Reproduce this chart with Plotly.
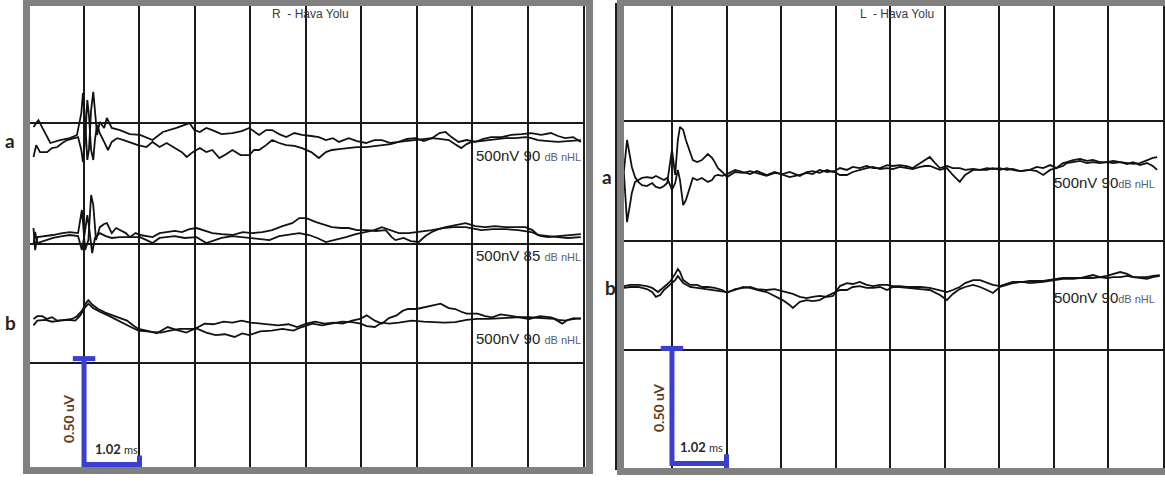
import plotly.graph_objects as go

W, H = 1165, 482

# ---------------- DATA (time in ms, amplitude deviation in nV) ----------------
# Left panel: R - Hava Yolu
R_a1_t = [0.09,0.18,0.40,0.58,0.76,0.89,0.97,1.00,1.04,1.08,1.11,1.15,1.19,1.22,1.26,1.31,1.39,1.44,1.53,1.68,
          1.86,2.05,2.28,2.47,2.60,2.72,2.96,3.05,3.15,3.27,3.38,3.55,3.75,3.92,4.06,4.24,4.37,4.48,4.61,4.74,
          4.89,5.03,5.20,5.34,5.47,5.60,5.71,5.89,6.04,6.21,6.36,6.50,6.66,6.81,6.96,7.12,7.27,7.42,7.56,7.67,
          7.78,7.91,8.06,8.22,8.37,8.51,8.70,8.88,9.07,9.25,9.43,9.61,9.74,9.87,10.02,10.16]
R_a1_nv = [61,94,-14,0,9,24,127,222,94,-94,-47,142,227,142,24,85,57,104,57,47,
           28,24,0,38,47,57,80,47,38,57,47,28,33,42,57,24,47,47,28,14,
           33,24,19,14,0,9,-9,9,-5,-14,0,0,-14,-9,5,9,-5,9,33,38,
           14,-9,0,-9,5,14,14,24,28,33,24,33,19,9,14,-9]
R_a2_t = [0.09,0.14,0.21,0.34,0.43,0.53,0.62,0.71,0.84,0.91,0.97,1.00,1.04,1.08,1.11,1.15,1.19,1.22,1.26,1.31,
          1.39,1.46,1.53,1.63,1.75,1.86,2.01,2.17,2.28,2.41,2.54,2.69,2.82,2.91,3.02,3.15,3.27,3.38,3.51,3.64,
          3.75,3.90,4.06,4.15,4.24,4.37,4.48,4.61,4.74,4.89,5.03,5.20,5.34,5.47,5.58,5.75,5.89,6.04,6.21,6.36,
          6.50,6.66,6.81,6.96,7.12,7.27,7.42,7.56,7.73,7.84,7.96,8.06,8.15,8.31,8.46,8.60,8.77,8.96,9.14,9.25,
          9.37,9.56,9.74,9.92,10.16]
R_a2_nv = [-80,-24,-57,-57,-38,-33,-14,0,9,14,-47,-104,0,189,118,-47,-94,0,71,33,
           -9,-47,-9,9,0,-9,-24,-33,-9,-33,-14,-38,-57,-80,-57,-38,-57,-47,-85,-66,
           -47,-71,-71,-47,-47,-24,0,-14,-24,-28,-38,-57,-85,-57,-47,-42,-38,-33,-33,-28,
           -24,-19,-9,-5,0,5,9,5,0,-19,-38,-19,-9,-5,0,5,9,9,14,9,
           0,-5,-9,-5,0]

R_c1_t = [0.09,0.12,0.16,0.31,0.45,0.62,0.76,0.91,0.98,1.00,1.04,1.10,1.15,1.19,1.24,1.31,1.39,1.44,1.53,1.61,
          1.68,1.79,1.86,1.97,2.05,2.17,2.28,2.41,2.54,2.69,2.82,2.96,3.09,3.24,3.38,3.55,3.75,3.94,4.12,4.30,
          4.48,4.67,4.85,4.98,5.11,5.29,5.44,5.58,5.75,5.89,6.04,6.21,6.39,6.57,6.68,6.75,6.90,7.03,7.18,7.30,
          7.42,7.54,7.67,7.85,8.04,8.22,8.40,8.58,8.77,8.96,9.14,9.27,9.37,9.56,9.74,9.92,10.16]
R_c1_nv = [38,-66,-5,0,5,14,19,14,123,66,-66,-19,194,146,-19,42,57,61,14,38,
           28,14,-5,14,5,0,-5,14,19,24,19,33,38,24,14,9,5,19,14,19,
           28,47,61,85,85,66,52,42,38,38,28,28,24,28,-5,-19,-9,-24,-28,0,
           19,33,42,52,61,47,42,47,42,42,42,28,5,0,-5,-9,-5]
R_c2_t = [0.09,0.12,0.16,0.31,0.45,0.62,0.76,0.91,0.98,1.02,1.08,1.11,1.17,1.22,1.31,1.42,1.53,1.68,1.86,2.05,
          2.17,2.28,2.41,2.54,2.69,2.87,3.09,3.27,3.38,3.55,3.75,3.94,4.12,4.30,4.43,4.61,4.80,4.98,5.16,5.31,
          5.47,5.62,5.84,6.02,6.21,6.36,6.50,6.66,6.81,6.99,7.18,7.42,7.63,7.82,8.04,8.22,8.33,8.55,8.77,9.01,
          9.25,9.43,9.56,9.74,9.92,10.16]
R_c2_nv = [-42,19,-33,-19,-9,0,5,0,-66,-9,99,47,-80,-9,14,0,-9,-5,-5,-5,
           -19,-33,-9,-5,0,-9,-5,-33,-24,-9,0,-5,-9,-14,-19,0,9,14,5,-9,
           -28,-19,-5,9,19,28,42,28,14,14,19,28,38,42,42,33,28,33,33,28,
           19,0,-5,0,5,9]

R_b1_t = [0.09,0.16,0.25,0.34,0.43,0.53,0.67,0.80,0.89,0.98,1.06,1.10,1.17,1.28,1.41,1.54,1.68,1.81,1.92,2.02,
          2.17,2.36,2.47,2.56,2.72,2.90,3.05,3.24,3.40,3.59,3.75,3.92,4.08,4.26,4.43,4.59,4.78,4.94,5.11,5.27,
          5.44,5.62,5.78,5.95,6.10,6.22,6.37,6.50,6.63,6.77,6.88,6.98,7.14,7.30,7.45,7.58,7.73,7.85,7.96,8.06,
          8.26,8.40,8.53,8.68,8.81,9.01,9.21,9.41,9.61,9.74,9.89,10.03,10.16]
R_b1_nv = [0,13,13,0,8,-8,-4,0,13,38,76,89,68,47,30,17,4,-8,-30,-47,
           -55,-68,-51,-38,-51,-64,-47,-22,-25,-13,-17,-8,-17,-22,-25,-30,-25,-38,-22,-13,
           -22,-17,-22,-8,0,17,-8,-22,4,17,38,47,47,55,64,72,51,47,34,25,
           25,13,8,22,17,8,0,13,8,-4,-8,4,0]
R_b2_t = [0.09,0.16,0.31,0.43,0.58,0.73,0.86,0.95,1.04,1.10,1.19,1.31,1.46,1.61,1.75,1.88,2.02,2.24,2.43,2.60,
          2.78,2.96,3.11,3.27,3.44,3.61,3.79,3.93,4.06,4.26,4.47,4.67,4.87,5.03,5.22,5.40,5.58,5.77,5.95,6.11,
          6.22,6.37,6.50,6.63,6.81,7.05,7.27,7.45,7.65,7.85,8.06,8.26,8.46,8.73,8.97,9.21,9.47,9.67,9.82,9.92,
          10.16]
R_b2_nv = [-30,-8,-4,-13,-8,-4,-8,17,55,72,51,34,17,-4,-22,-38,-55,-59,-64,-55,
           -47,-47,-47,-64,-76,-72,-85,-68,-76,-59,-55,-47,-55,-38,-22,-30,-22,-13,-15,-22,
           -34,-38,-17,-22,-17,-8,-13,-15,-17,-15,-4,0,0,4,8,8,4,0,-22,-4,
           4]

# Right panel: L - Hava Yolu
L_a_t = [0.12,0.18,0.24,0.27,0.33,0.39,0.46,0.55,0.65,0.72,0.80,0.87,0.93,0.98,1.02,1.08,1.13,1.17,1.23,1.28,
         1.36,1.41,1.49,1.58,1.69,1.77,1.82,1.88,1.96,2.05,2.20,2.35,2.48,2.61,2.79,2.94,3.09,3.22,3.41,3.54,
         3.65,3.78,3.92,4.03,4.16,4.29,4.40,4.53,4.66,4.78,4.91,5.04,5.15,5.28,5.41,5.52,5.66,5.75,5.84,5.94,
         6.03,6.16,6.27,6.40,6.50,6.65,6.78,6.91,7.02,7.15,7.28,7.39,7.53,7.71,7.84,7.96,8.09,8.21,8.33,8.40,
         8.52,8.65,8.78,8.89,9.02,9.15,9.27,9.40,9.53,9.64,9.77,9.90,10.01,10.09]
L_a1_nv = [0,139,61,22,-22,-43,-57,-61,-48,-65,-70,-61,-48,39,96,-13,139,196,183,139,
           87,52,43,52,78,61,43,17,0,-22,0,-4,4,-4,-17,-4,-9,0,-17,0,
           4,-4,9,0,17,9,22,17,26,17,17,30,26,30,26,17,39,52,65,39,
           17,26,17,17,9,13,9,17,13,17,9,13,4,9,22,17,30,17,39,43,
           52,57,48,52,43,43,48,43,39,35,39,52,61,65]
L_a2_nv = [0,-218,-135,-91,-43,-35,-26,-22,-26,-17,-26,-35,-26,-57,-78,-48,9,-35,-144,-122,
           -57,-26,-35,-26,-43,-35,-17,-13,-17,-9,9,0,-9,4,-13,0,-13,-22,-13,-4,
           -9,9,0,4,-13,-13,0,9,17,22,13,17,13,22,17,13,22,26,26,17,
           9,17,-13,-43,-13,9,9,9,17,9,17,9,4,9,4,-13,9,17,26,39,
           43,48,39,43,39,43,39,43,35,43,30,39,26,9]

L_b1_t = [0.12,0.24,0.39,0.55,0.65,0.76,0.87,0.98,1.08,1.13,1.17,1.23,1.36,1.49,1.58,1.69,1.82,1.96,2.05,2.20,
          2.35,2.48,2.61,2.79,2.94,3.09,3.22,3.28,3.41,3.54,3.65,3.78,3.92,4.03,4.16,4.29,4.40,4.53,4.66,4.78,
          4.91,5.04,5.15,5.28,5.41,5.52,5.66,5.84,6.03,6.16,6.27,6.40,6.50,6.65,6.78,6.91,7.02,7.15,7.28,7.39,
          7.58,7.71,7.96,8.09,8.33,8.52,8.65,8.89,9.02,9.15,9.27,9.40,9.53,9.64,9.77,9.90,10.01,10.14]
L_b1_nv = [4,9,9,4,-4,-22,0,22,57,78,65,30,9,9,0,0,-4,-13,-26,-9,
           -4,0,-9,-13,-9,-17,-26,-30,-43,-48,-43,-39,-43,-39,4,17,13,22,9,4,
           9,9,4,4,0,0,0,-4,-13,-22,-13,0,17,30,30,17,9,4,13,22,
           22,26,26,30,39,39,39,52,43,48,57,65,57,43,43,43,48,52]
L_b2_t = [0.12,0.24,0.39,0.55,0.65,0.72,0.80,0.87,0.98,1.08,1.13,1.23,1.36,1.49,1.69,1.88,2.05,2.20,2.35,2.48,
          2.61,2.79,2.94,3.09,3.22,3.28,3.41,3.54,3.65,3.78,3.92,4.03,4.16,4.29,4.40,4.53,4.66,4.78,4.91,5.04,
          5.15,5.28,5.52,5.66,5.84,6.03,6.16,6.27,6.40,6.50,6.65,6.78,6.91,7.02,7.15,7.28,7.39,7.58,7.71,7.96,
          8.09,8.33,8.52,8.65,8.89,9.02,9.15,9.27,9.40,9.53,9.64,9.77,9.90,10.01,10.14]
L_b2_nv = [-4,0,0,-9,-22,-43,-35,-13,9,30,48,17,0,-4,-9,-17,-22,-13,0,-4,
           -13,-22,-39,-57,-78,-91,-65,-57,-61,-57,-39,-26,-13,-13,0,4,-4,-4,0,-13,
           0,0,-4,-9,-13,-35,-57,-30,-9,0,9,0,-13,-26,0,9,17,22,17,22,
           26,35,35,39,39,43,39,43,43,48,43,39,35,43,48]

# Row labels and scale text
titles = ["R  - Hava Yolu", "L  - Hava Yolu"]
left_row_levels = ["90", "85", "90"]
right_row_levels = ["90", "90"]
scale_uv = 0.5        # uV
scale_ms = 1.02       # ms per division
x_span_ms = 10.2

# ---------------- helpers ----------------
def px(x):
    return x / W

def py(y):
    return 1 - y / H

BLUE = "#3b3fd1"
INK = "#121212"
FONT_SCAN = "Liberation Sans Narrow, Liberation Sans, Arial, sans-serif"
FONT_LBL = "Lato, Open Sans, sans-serif"

fig = go.Figure()

# left panel rows: (t1, v1, t2, v2, baseline uV)
left_rows = [
    (R_a1_t, R_a1_nv, R_a2_t, R_a2_nv, 1.547),
    (R_c1_t, R_c1_nv, R_c2_t, R_c2_nv, 1.094),
    (R_b1_t, R_b1_nv, R_b2_t, R_b2_nv, 0.703),
]
right_rows = [
    (L_a_t, L_a1_nv, L_a_t, L_a2_nv, 1.287),
    (L_b1_t, L_b1_nv, L_b2_t, L_b2_nv, 0.787),
]

for rows, xa, ya in ((left_rows, "x", "y"), (right_rows, "x2", "y2")):
    for t1, v1, t2, v2, base in rows:
        assert len(t1) == len(v1) and len(t2) == len(v2)
        for tt, vv in ((t1, v1), (t2, v2)):
            fig.add_trace(go.Scatter(
                x=tt, y=[base + v / 1000.0 for v in vv], mode="lines",
                line=dict(color=INK, width=1.8), xaxis=xa, yaxis=ya,
                showlegend=False, hoverinfo="skip"))

# scale bars (0.50 uV vertical, 1.02 ms horizontal)
for xa, ya, b0 in (("x", "y", 0.016), ("x2", "y2", 0.02)):
    fig.add_trace(go.Scatter(
        x=[scale_ms, scale_ms, 2 * scale_ms], y=[b0 + scale_uv, b0, b0],
        mode="lines", line=dict(color=BLUE, width=5), xaxis=xa, yaxis=ya,
        cliponaxis=False, showlegend=False, hoverinfo="skip"))
    fig.add_trace(go.Scatter(
        x=[scale_ms], y=[b0 + scale_uv], mode="markers",
        marker=dict(symbol="line-ew", size=16, line=dict(color=BLUE, width=5)),
        xaxis=xa, yaxis=ya, cliponaxis=False, showlegend=False, hoverinfo="skip"))
    fig.add_trace(go.Scatter(
        x=[2 * scale_ms], y=[b0], mode="markers",
        marker=dict(symbol="line-ns", size=13, line=dict(color=BLUE, width=5)),
        xaxis=xa, yaxis=ya, cliponaxis=False, showlegend=False, hoverinfo="skip"))

GRID = "#1a1a1a"
common_x = dict(range=[0, x_span_ms], tick0=0, dtick=scale_ms, showgrid=True,
                gridcolor=GRID, gridwidth=1.8, showticklabels=False, ticks="",
                zeroline=False, showline=True, mirror=True, linecolor=GRID,
                linewidth=1.8, fixedrange=True)
common_y = dict(showgrid=True, gridcolor=GRID, gridwidth=1.8, showticklabels=False,
                ticks="", zeroline=False, showline=True, mirror=True,
                linecolor=GRID, linewidth=1.8, tickmode="array", fixedrange=True)

fig.update_layout(
    width=W, height=H, margin=dict(l=0, r=0, t=0, b=0),
    paper_bgcolor="white", plot_bgcolor="white",
    xaxis=dict(domain=[px(28.6), px(583)], anchor="y", **common_x),
    yaxis=dict(domain=[py(468), py(6)], range=[0, (468 - 6) / 212], anchor="x",
               tickvals=[0.495, 1.057, 1.627], **common_y),
    xaxis2=dict(domain=[px(617.4), px(1163)], anchor="y2", **common_x),
    yaxis2=dict(domain=[py(468), py(5)], range=[0, (468 - 5) / 230], anchor="x2",
                tickvals=[0.513, 0.989, 1.509], **common_y),
)

# gray frames
fig.add_shape(type="rect", xref="paper", yref="paper", layer="above",
              x0=px(26.5), x1=px(589.5), y0=py(470.5), y1=py(2.5),
              line=dict(color="#808080", width=7), fillcolor="rgba(0,0,0,0)")
fig.add_shape(type="rect", xref="paper", yref="paper", layer="above",
              x0=px(620.5), x1=px(1185), y0=py(471.5), y1=py(2.5),
              line=dict(color="#808080", width=7), fillcolor="rgba(0,0,0,0)")

def ann(x, y, text, size, color, family, xanchor="center", angle=0):
    fig.add_annotation(x=px(x), y=py(y), xref="paper", yref="paper", text=text,
                       showarrow=False, xanchor=xanchor, yanchor="middle",
                       textangle=angle,
                       font=dict(size=size, color=color, family=family))

# titles
ann(310, 14, titles[0], 12, "#3a3a3a", FONT_SCAN)
ann(897, 14, titles[1], 12, "#3a3a3a", FONT_SCAN)

# level labels
DB = "<span style='font-size:11px;color:#56607a'>{}</span>"
for lvl, yy in zip(left_row_levels, [156, 255, 338]):
    ann(474, yy, "500nV " + lvl + " " + DB.format("dB nHL"), 15, "#222222", FONT_SCAN, xanchor="left")
for lvl, yy in zip(right_row_levels, [182, 297]):
    ann(1052, yy, "500nV " + lvl + DB.format("dB nHL"), 15, "#222222", FONT_SCAN, xanchor="left")

# a / b labels
for x, y, t in ((10, 140, "a"), (10, 322, "b"), (607, 176, "a"), (610, 287, "b")):
    ann(x, y, "<b>" + t + "</b>", 19, "#2a2218", FONT_LBL)

# scale bar texts
ann(68, 419, "<b>0.50 uV</b>", 14, "#5e3d1c", FONT_LBL, angle=-90)
ann(658, 408, "<b>0.50 uV</b>", 14, "#5e3d1c", FONT_LBL, angle=-90)
MS = "<b>1.02</b> <span style='font-size:11px'>ms</span>"
ann(116, 449, MS, 13, "#2a2a2a", FONT_LBL)
ann(701, 447, MS, 13, "#2a2a2a", FONT_LBL)

fig.write_html("out.html", config={"displayModeBar": False},
               post_script="document.body.style.margin='0';")
